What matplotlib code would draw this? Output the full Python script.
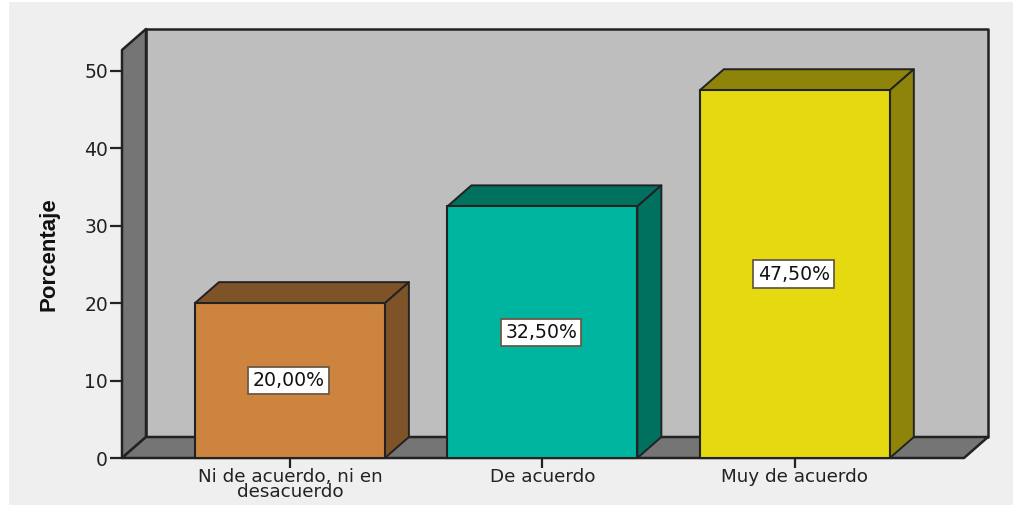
import matplotlib
matplotlib.use('Agg')
import matplotlib.pyplot as plt
from matplotlib.patches import Polygon, Rectangle

# 3D-looking SPSS style bar chart, depth faces are drawn as polygons

categories = ['Ni de acuerdo, ni en\ndesacuerdo', 'De acuerdo', 'Muy de acuerdo']
porcentajes = [20.0, 32.5, 47.5]
value_labels = ['20,00%', '32,50%', '47,50%']
y_ticks = [0, 10, 20, 30, 40, 50]
front_colors = ['#cc843f', '#00b5a0', '#e5d90f']
side_colors = ['#7f5328', '#00705f', '#8f840a']

W, H = 1013, 505
BG = '#efefef'
WALL = '#bebebe'
DARK_WALL = '#757575'
LINE = '#222222'
TEXT = '#222222'

# depth of the fake 3D box, in data units
DX = 24 / 252.5
DY = 21 / 7.74
BAR_W = 190 / 252.5
X0, X1 = -0.665, 2.67
Y_TOP = 52.7

fig = plt.figure(figsize=(W / 100, H / 100), dpi=100, facecolor='white')
fig.patches.append(Rectangle((9 / W, 0), 1 - 9 / W, 1 - 2 / H, transform=fig.transFigure,
                             facecolor=BG, edgecolor='none', zorder=-5))

ax = fig.add_axes([122 / W, (H - 458) / H, (964 - 122) / W, (458 - 50) / H])
ax.patch.set_visible(False)
ax.set_xlim(X0, X1)
ax.set_ylim(0, Y_TOP)
for s in ax.spines.values():
    s.set_visible(False)


def face(pts, color, lw=1.8, z=1):
    ax.add_patch(Polygon(pts, closed=True, facecolor=color, edgecolor=LINE, linewidth=lw,
                         joinstyle='round', clip_on=False, zorder=z))


# back wall, left wall, floor
face([(X0 + DX, DY), (X1 + DX, DY), (X1 + DX, Y_TOP + DY), (X0 + DX, Y_TOP + DY)], WALL)
face([(X0, 0), (X0 + DX, DY), (X0 + DX, Y_TOP + DY), (X0, Y_TOP)], DARK_WALL)
face([(X0, 0), (X1, 0), (X1 + DX, DY), (X0 + DX, DY)], DARK_WALL)

xs = list(range(len(categories)))
ax.bar(xs, porcentajes, width=BAR_W, color=front_colors, edgecolor=LINE, linewidth=1.5,
       zorder=4, clip_on=False)

for x, v, side in zip(xs, porcentajes, side_colors):
    l, r = x - BAR_W / 2, x + BAR_W / 2
    face([(l, v), (r, v), (r + DX, v + DY), (l + DX, v + DY)], side, lw=1.4, z=3)
    face([(r, 0), (r + DX, DY), (r + DX, v + DY), (r, v)], side, lw=1.4, z=3)

for x, v, lab in zip(xs, porcentajes, value_labels):
    ax.text(x - 0.005, v / 2, lab, ha='center', va='center', fontsize=13.6, color='#111111',
            family='DejaVu Sans', zorder=6,
            bbox=dict(boxstyle='square,pad=0.22', facecolor='white', edgecolor='#6b5a45', linewidth=1.3))

ax.set_xticks(xs)
ax.set_xticklabels(categories, fontsize=13.2, color=TEXT, family='DejaVu Sans', linespacing=0.74)
ax.set_yticks(y_ticks)
ax.set_yticklabels([str(t) for t in y_ticks], fontsize=13.5, color=TEXT, family='DejaVu Sans')
ax.tick_params(axis='y', length=8.6, width=1.6, color=LINE, pad=1.5)
ax.tick_params(axis='x', length=7, width=1.6, color=LINE, pad=0.5)

fig.text(49 / W, 1 - 254 / H, 'Porcentaje', rotation=90, ha='center', va='center', fontsize=16,
         fontweight='bold', color='#111111', family=['Liberation Sans Narrow', 'Liberation Sans'])

fig.savefig('out.png', dpi=100, facecolor=fig.get_facecolor())
